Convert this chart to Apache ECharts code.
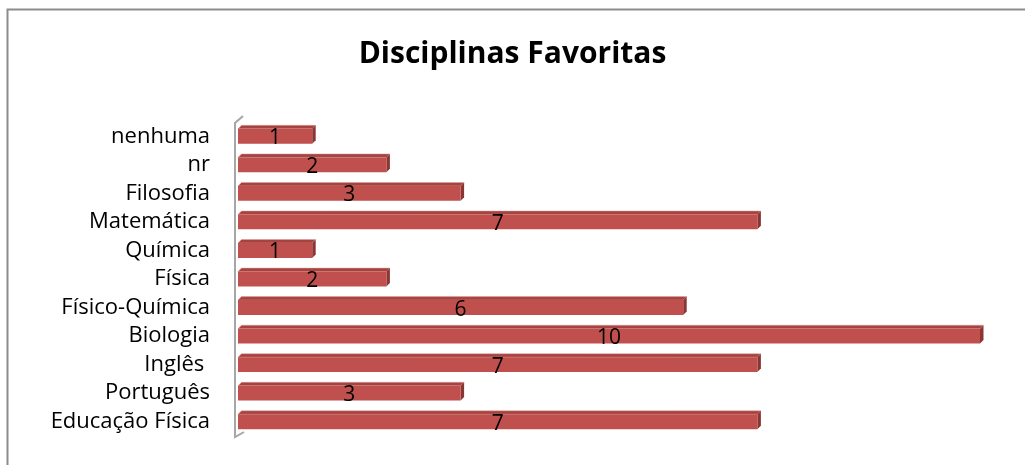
<!DOCTYPE html>
<html>
<head>
<meta charset="utf-8">
<script src="https://cdn.jsdelivr.net/npm/echarts@6/dist/echarts.min.js"></script>
<style>
html,body{margin:0;padding:0;background:#fff;}
#chart{width:1025px;height:465px;}
</style>
</head>
<body>
<div id="chart"></div>
<script>
const categories = ['Educação Física','Português','Inglês ','Biologia','Físico-Química','Física','Química','Matemática','Filosofia','nr','nenhuma'];
const values = [7,3,7,10,6,2,1,7,3,2,1];
const titleText = 'Disciplinas Favoritas';

const FONT = '"Open Sans", "Liberation Sans", sans-serif';
const chart = echarts.init(document.getElementById('chart'));

const data = values.map((v,i)=>[v,i]);

function renderItem(params, api){
  const v = api.value(0), c = api.value(1);
  const p0 = api.coord([0,c]);
  const p1 = api.coord([v,c]);
  const bh = api.size([0,1])[1]*0.52;
  const d = 3.5;
  const x0 = p0[0], x1 = p1[0];
  const yT = p0[1]-bh/2, yB = p0[1]+bh/2;
  return {type:'group', children:[
    {type:'polygon', shape:{points:[[x0,yT],[x0+d,yT-d],[x1+d,yT-d],[x1,yT]]}, style:{fill:'#A8423F', stroke:'#D9A3A1', lineWidth:0.5}},
    {type:'polygon', shape:{points:[[x1,yT],[x1+d,yT-d],[x1+d,yB-d],[x1,yB]]}, style:{fill:'#8B3633'}},
    {type:'rect', shape:{x:x0,y:yT,width:x1-x0,height:bh}, style:{fill:'#C0504D'}},
    {type:'text', x:(x0+x1)/2, y:p0[1]+2, style:{text:String(v), fill:'#000', font:'21px '+FONT, align:'center', verticalAlign:'middle'}}
  ]};
}

const GRID = {left:238, right:45, top:122, height:314};

chart.setOption({
  animation:false,
  title:{text:titleText, left:'center', top:34, textStyle:{fontFamily:FONT, fontWeight:'bold', fontSize:30, color:'#000'}},
  grid:Object.assign({containLabel:false}, GRID),
  xAxis:{type:'value', min:0, max:10, interval:1, show:false},
  yAxis:{type:'category', data:categories, axisLine:{show:false}, axisTick:{show:false},
    axisLabel:{interval:0, margin:28, fontFamily:FONT, fontSize:22, color:'#000'}},
  series:[{type:'custom', renderItem:renderItem, data:data, encode:{x:0,y:1}, clip:false}]
});

const wx = GRID.left-3;
const wTop = GRID.top, wBot = GRID.top+GRID.height;
chart.setOption({graphic:[
  {type:'rect', shape:{x:7.5,y:9.5,width:1100,height:600}, style:{fill:'none', stroke:'#8C8C8C', lineWidth:2}, silent:true},
  {type:'polyline', shape:{points:[[wx+8,wTop-6],[wx,wTop+1],[wx,wBot+1],[wx+9,wBot-4]]}, style:{stroke:'#A6A6A6', lineWidth:2, fill:'none'}, z:-1}
]});
</script>
</body>
</html>
